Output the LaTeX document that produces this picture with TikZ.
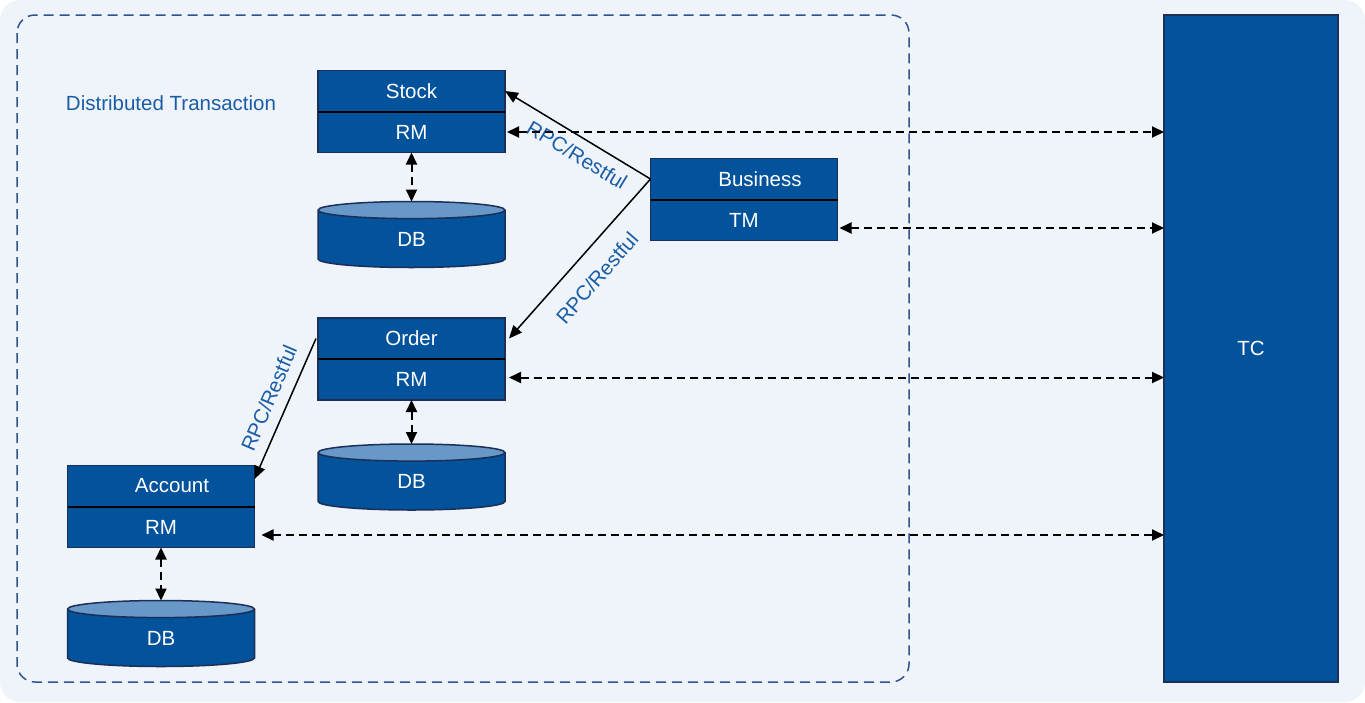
\documentclass[tikz,border=0pt]{standalone}
\usepackage{fontspec}
\setmainfont{Liberation Sans}
\usetikzlibrary{shapes.geometric, positioning, arrows.meta}
\definecolor{bgColor}{HTML}{EFF4FA}
\definecolor{boxColor}{HTML}{02529C}
\definecolor{lineColor}{HTML}{1B2F57}
\definecolor{endColor}{HTML}{6898C8}
\definecolor{labelColor}{HTML}{1A5DA6}
\definecolor{frameColor}{HTML}{2F5490}
\tikzstyle{part}=[rectangle, draw=lineColor, fill=boxColor, text=white,
line width=1.5pt, minimum width=187pt, minimum height=41pt, inner sep=0pt,
outer sep=0pt, font=\fontsize{20.5}{24}\selectfont]
\tikzstyle{db}=[cylinder, shape border rotate=90, aspect=0.6, draw=lineColor,
cylinder uses custom fill, cylinder body fill=boxColor, cylinder end fill=endColor,
text=white, line width=1.5pt, minimum width=187pt, minimum height=66pt,
inner sep=0pt, outer sep=0pt, font=\fontsize{20.5}{24}\selectfont]
\tikzstyle{call}=[-{Triangle[length=13pt,width=11pt]}, line width=1.5pt, draw=black]
\tikzstyle{link}=[{Triangle[length=12pt,width=11pt]}-{Triangle[length=12pt,width=11pt]},
dash pattern=on 8pt off 5pt, line width=2pt, draw=black]
\tikzstyle{divider}=[line width=2pt, draw=black]
\tikzstyle{proto}=[text=labelColor, inner sep=0pt, font=\fontsize{20.5}{24}\selectfont]
\begin{document}
\begin{tikzpicture}[x=1pt, y=-1pt]
      % background and frame
      \fill[bgColor, rounded corners=20pt] (0,0) rectangle (1365,702);
      \draw[frameColor, line width=1.5pt, dash pattern=on 10pt off 6pt,
        rounded corners=18pt] (17,15) rectangle (909,682);
      \node(title) [proto] at (171,103) {Distributed Transaction};
      % services
      \node(stock) [part] at (411.5,91) {Stock};
      \node(stockRM) [part, below=0pt of stock] {RM};
      \node(stockDB) [db, below=49pt of stockRM] {DB};
      \node(business) [part] at (744,179) {\hspace*{32pt}Business};
      \node(businessTM) [part, below=0pt of business] {TM};
      \node(order) [part] at (411.5,338.5) {Order};
      \node(orderRM) [part, below=0pt of order] {RM};
      \node(orderDB) [db, below=44pt of orderRM] {DB};
      \node(account) [part] at (161,486) {\hspace*{22pt}Account};
      \node(accountRM) [part, below=0pt of account] {RM};
      \node(accountDB) [db, below=53pt of accountRM] {DB};
      \node(tc) [part, minimum width=174pt, minimum height=667pt] at (1251,348.5) {TC};
      \draw [divider] (stock.south west) -- (stock.south east);
      \draw [divider] (business.south west) -- (business.south east);
      \draw [divider] (order.south west) -- (order.south east);
      \draw [divider] (account.south west) -- (account.south east);
      % calls
      \draw [call] (business.west) -- ([shorten >=-2pt]stock.east);
      \draw [call] (business.west) -- ([xshift=4pt]order.east);
      \draw [call] ([xshift=-2pt]order.west) -- ([yshift=7pt]account.east);
      \node(rpc1) [proto, rotate=-31] at (577,155) {RPC/Restful};
      \node(rpc2) [proto, rotate=49] at (597,278) {RPC/Restful};
      \node(rpc3) [proto, rotate=67] at (269,398) {RPC/Restful};
      % links to TC
      \draw [link] ([xshift=2pt]stockRM.east) -- (stockRM.east -| tc.west);
      \draw [link] ([xshift=2pt, yshift=-8pt]businessTM.east)
        -- ([yshift=-8pt]businessTM.east -| tc.west);
      \draw [link] ([xshift=4pt, yshift=2pt]orderRM.east)
        -- ([yshift=2pt]orderRM.east -| tc.west);
      \draw [link] ([xshift=7pt, yshift=-8pt]accountRM.east)
        -- ([yshift=-8pt]accountRM.east -| tc.west);
      % links to DB
      \draw [link] (stockRM.south) -- (stockDB.north);
      \draw [link] (orderRM.south) -- (orderDB.north);
      \draw [link] (accountRM.south) -- (accountDB.north);
\end{tikzpicture}
\end{document}
